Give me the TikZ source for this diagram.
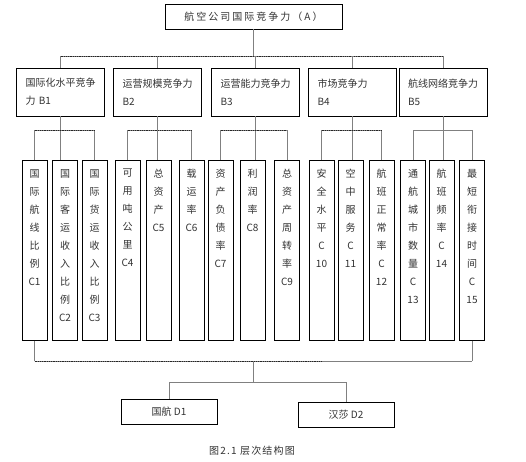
\documentclass[tikz,border=0pt]{standalone}
\usepackage{fontspec}
\setmainfont{Noto Sans CJK SC}
\usetikzlibrary{positioning,shadows}

\newcommand{\stacktext}[1]{\parbox[t][162pt][t]{22pt}{\centering #1}}

\begin{document}
\begin{tikzpicture}[
    x=1pt,y=-1pt,
    font=\fontsize{10}{18}\selectfont,
    box/.style={draw,fill=white,line width=0.6pt,text=black!80,
      drop shadow={shadow xshift=0.7pt,shadow yshift=-0.7pt,fill=black,opacity=1}},
    topbox/.style={box,minimum width=177pt,minimum height=25pt},
    bbox/.style={box,align=left,text width=70pt,inner xsep=9pt,minimum height=48pt},
    cbox/.style={box,anchor=north,minimum width=25pt,inner xsep=0pt,inner ysep=9pt},
    dbox/.style={box,minimum width=96pt,minimum height=25pt},
    link/.style={draw=black!50,line width=0.8pt},
    bus/.style={draw=black!85,line width=0.8pt,densely dotted}
  ]
    \useasboundingbox (0,0) rectangle (526,461);
    % goal
    \node[topbox] (A) at (253.5,16.5) {\addfontfeature{LetterSpace=20}航空公司国际竞争力（A）};
    % criteria
    \node[bbox] (B1) at (60.5,92) {国际化水平竞争\\力 B1};
    \node[bbox] (B2) at (157.5,92) {运营规模竞争力\\B2};
    \node[bbox] (B3) at (255.5,92) {运营能力竞争力\\B3};
    \node[bbox] (B4) at (352.5,92) {市场竞争力\\B4};
    \node[bbox] (B5) at (443,92) {航线网络竞争力\\B5};
    % sub-criteria
    \node[cbox] (C1) at (34.5,160) {\stacktext{国\\际\\航\\线\\比\\例\\C1}};
    \node[cbox] (C2) at (65,160) {\stacktext{国\\际\\客\\运\\收\\入\\比\\例\\C2}};
    \node[cbox] (C3) at (94.5,160) {\stacktext{国\\际\\货\\运\\收\\入\\比\\例\\C3}};
    \node[cbox] (C4) at (127.5,160) {\stacktext{可\\用\\吨\\公\\里\\C4}};
    \node[cbox] (C5) at (158.5,160) {\stacktext{总\\资\\产\\C5}};
    \node[cbox] (C6) at (191.5,160) {\stacktext{载\\运\\率\\C6}};
    \node[cbox] (C7) at (220.5,160) {\stacktext{资\\产\\负\\债\\率\\C7}};
    \node[cbox] (C8) at (252.5,160) {\stacktext{利\\润\\率\\C8}};
    \node[cbox] (C9) at (287,160) {\stacktext{总\\资\\产\\周\\转\\率\\C9}};
    \node[cbox] (C10) at (321.5,160) {\stacktext{安\\全\\水\\平\\C\\10}};
    \node[cbox] (C11) at (350.5,160) {\stacktext{空\\中\\服\\务\\C\\11}};
    \node[cbox] (C12) at (381.5,160) {\stacktext{航\\班\\正\\常\\率\\C\\12}};
    \node[cbox] (C13) at (413,160) {\stacktext{通\\航\\城\\市\\数\\量\\C\\13}};
    \node[cbox] (C14) at (441.5,160) {\stacktext{航\\班\\频\\率\\C\\14}};
    \node[cbox] (C15) at (472,160) {\stacktext{最\\短\\衔\\接\\时\\间\\C\\15}};
    % alternatives
    \node[dbox] (D1) at (169,411.5) {国航 D1};
    \node[dbox] (D2) at (346,414.5) {汉莎 D2};
    \node[text=black!80] (cap) at (252,451) {\addfontfeature{LetterSpace=12}图2.1 层次结构图};
    % bus levels
    \coordinate (ybus) at (0,56);
    \coordinate (cbus) at (0,130);
    \coordinate (dbus) at (0,361);
    \coordinate (ebus) at (0,382);
    % A to B
    \draw[link] (A.south) -- (A.south |- ybus);
    \draw[link] (B1.north |- ybus) -- (B5.north |- ybus);
    \draw[bus] (B1.north |- ybus) -- (B5.north |- ybus);
    \foreach \b in {B1,B2,B3,B4,B5}
      \draw[link] (\b.north) -- (\b.north |- ybus);
    % B to C
    \foreach \b/\l/\m/\r in {B1/C1/C2/C3,B2/C4/C5/C6,B3/C7/C8/C9,B4/C10/C11/C12,B5/C13/C14/C15}{
      \draw[link] (\b.south) -- (\b.south |- \m.north);
      \draw[link] (\l.north |- cbus) -- (\r.north |- cbus);
      \draw[link] (\l.north) -- (\l.north |- cbus);
      \draw[link] (\r.north) -- (\r.north |- cbus);
    }
    \foreach \l/\r in {C1/C3,C4/C6,C7/C9,C10/C12}
      \draw[bus] (\l.north |- cbus) -- (\r.north |- cbus);
    % C to D
    \draw[link] (C1.south) -- (C1.south |- dbus);
    \draw[link] (C15.south) -- (C15.south |- dbus);
    \draw[link] (C1.south |- dbus) -- (C15.south |- dbus);
    \draw[bus] (C1.south |- dbus) -- (C10.south |- dbus);
    \draw[link] (A.south |- dbus) -- (A.south |- ebus);
    \draw[link] (D1.north |- ebus) -- (D2.north |- ebus);
    \draw[link] (D1.north) -- (D1.north |- ebus);
    \draw[link] (D2.north) -- (D2.north |- ebus);
  \end{tikzpicture}
\end{document}
